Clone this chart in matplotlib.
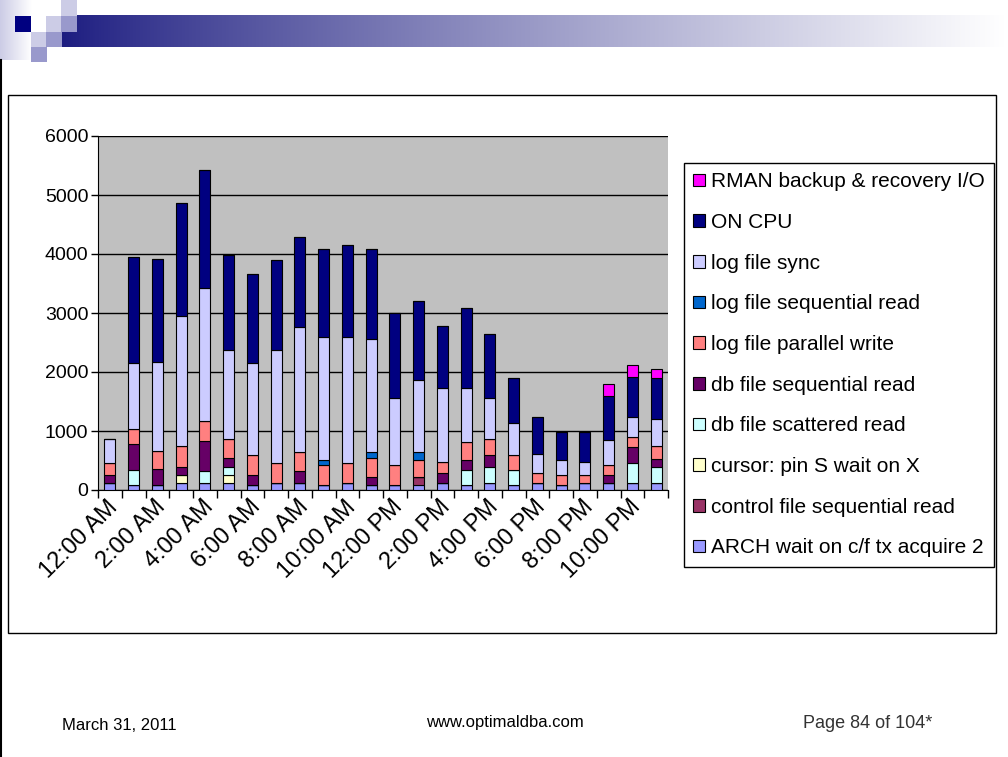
import matplotlib
matplotlib.use("Agg")
import matplotlib.pyplot as plt
import matplotlib.transforms as mtrans
import numpy as np
from matplotlib.patches import Rectangle

plt.rcParams['font.family'] = ['Liberation Sans', 'DejaVu Sans']

hours = ["12:00 AM", "1:00 AM", "2:00 AM", "3:00 AM", "4:00 AM", "5:00 AM",
         "6:00 AM", "7:00 AM", "8:00 AM", "9:00 AM", "10:00 AM", "11:00 AM",
         "12:00 PM", "1:00 PM", "2:00 PM", "3:00 PM", "4:00 PM", "5:00 PM",
         "6:00 PM", "7:00 PM", "8:00 PM", "9:00 PM", "10:00 PM", "11:00 PM"]

arch_wait = [124, 80, 80, 113, 113, 124, 90, 124, 124, 80, 113, 80,
             80, 80, 124, 80, 124, 80, 113, 80, 113, 113, 113, 124]
control_file_seq = [0, 0, 0, 0, 0, 0, 0, 0, 0, 0, 0, 0,
                    0, 135, 0, 0, 0, 0, 0, 0, 0, 0, 0, 0]
cursor_pin_s = [0, 0, 0, 141, 0, 130, 0, 0, 0, 0, 0, 0,
                0, 0, 0, 0, 0, 0, 0, 0, 0, 0, 0, 0]
db_scattered = [0, 259, 0, 0, 215, 130, 0, 0, 0, 0, 0, 0,
                0, 0, 0, 259, 260, 259, 0, 0, 0, 0, 339, 260]
db_sequential = [130, 435, 270, 130, 508, 164, 164, 0, 204, 0, 0, 135,
                 0, 0, 159, 169, 215, 0, 0, 0, 0, 136, 282, 136]
log_parallel_write = [209, 254, 305, 356, 328, 316, 333, 339, 322, 338, 344, 333,
                      338, 293, 186, 306, 260, 248, 170, 169, 141, 169, 170, 226]
log_seq_read = [0, 0, 0, 0, 0, 0, 0, 0, 0, 90, 0, 96,
                0, 136, 0, 0, 0, 0, 0, 0, 0, 0, 0, 0]
log_file_sync = [401, 1130, 1520, 2215, 2260, 1515, 1571, 1916, 2119, 2092, 2143, 1922,
                 1136, 1215, 1255, 910, 695, 543, 321, 259, 215, 430, 339, 457]
on_cpu = [0, 1792, 1745, 1915, 2006, 1611, 1497, 1521, 1514, 1485, 1553, 1519,
          1446, 1350, 1051, 1356, 1090, 768, 639, 470, 509, 751, 672, 690]
rman_io = [0, 0, 0, 0, 0, 0, 0, 0, 0, 0, 0, 0,
           0, 0, 0, 0, 0, 0, 0, 0, 0, 192, 209, 158]

series = [
    ("ARCH wait on c/f tx acquire 2", arch_wait, "#9999FF"),
    ("control file sequential read", control_file_seq, "#993366"),
    ("cursor: pin S wait on X", cursor_pin_s, "#FFFFCC"),
    ("db file scattered read", db_scattered, "#CCFFFF"),
    ("db file sequential read", db_sequential, "#660066"),
    ("log file parallel write", log_parallel_write, "#FF8080"),
    ("log file sequential read", log_seq_read, "#0066CC"),
    ("log file sync", log_file_sync, "#CCCCFF"),
    ("ON CPU", on_cpu, "#000080"),
    ("RMAN backup & recovery I/O", rman_io, "#FF00FF"),
]
y_ticks = [0, 1000, 2000, 3000, 4000, 5000, 6000]

W, H = 1008, 757
fig = plt.figure(figsize=(W / 100, H / 100), dpi=100)
fig.patch.set_facecolor("white")

def fx(px):
    return px / W

def fy(py):
    return 1 - py / H

# page left border line
fig.add_artist(plt.Line2D([fx(1), fx(1)], [0, fy(60)], color="black", lw=1.5,
                          transform=fig.transFigure))

# header gradient bar
gax = fig.add_axes([fx(62), fy(47), fx(1005) - fx(62), fy(15) - fy(47)])
grad = np.linspace(0, 1, 512) ** 0.85
c0 = np.array([0x1c, 0x1c, 0x80]) / 255
c1 = np.array([1.0, 1.0, 1.0])
img = (c0[None, :] * (1 - grad[:, None]) + c1[None, :] * grad[:, None])
gax.imshow(img[None, :, :], aspect="auto", extent=[0, 1, 0, 1])
gax.axis("off")
# left fade block (lavender to white, horizontal)
fax = fig.add_axes([0, fy(60), fx(32), fy(0) - fy(60)])
t = np.linspace(0, 1, 64)
lav = np.array([0xCC, 0xCC, 0xE6]) / 255
fade = (lav[None, :] * (1 - t[:, None]) + np.ones(3)[None, :] * t[:, None])[None, :, :]
fax.imshow(fade, aspect="auto", extent=[0, 1, 0, 1])
fax.axis("off")
# decorative squares
squares = [
    (61, 0, 16, 16, "#CCCCE6"),
    (15, 16, 16, 16, "#000080"),
    (31, 16, 15, 16, "white"),
    (46, 16, 15, 16, "#CCCCE6"),
    (61, 16, 16, 16, "#9999CC"),
    (31, 32, 15, 15, "#CCCCE6"),
    (46, 32, 16, 15, "#9999CC"),
    (31, 47, 16, 15, "#9999CC"),
]
for x0, y0, w, h, c in squares:
    fig.add_artist(Rectangle((fx(x0), fy(y0 + h)), fx(w), fy(0) - fy(h), color=c,
                             transform=fig.transFigure, lw=0))

# chart frame
fig.add_artist(Rectangle((fx(8), fy(633)), fx(996) - fx(8), fy(95) - fy(633),
                         fill=False, edgecolor="black", lw=1.0, transform=fig.transFigure))

ax = fig.add_axes([fx(98), fy(490), fx(668) - fx(98), fy(136) - fy(490)])
ax.set_facecolor("#C0C0C0")
x = np.arange(len(hours))
bottom = np.zeros(len(hours))
handles = []
for name, vals, col in series:
    v = np.array(vals, dtype=float)
    b = ax.bar(x, v, bottom=bottom, width=0.47, color=col, edgecolor="black",
               linewidth=0.8, label=name, zorder=3)
    handles.append(b)
    bottom += v

ax.set_xlim(-0.5, len(hours) - 0.5)
ax.set_ylim(0, 6000)
ax.set_yticks(y_ticks)
ax.set_yticklabels([str(t) for t in y_ticks], fontsize=14)
ax.yaxis.grid(True, color="black", lw=1.0, zorder=0)
ax.set_axisbelow(True)
ax.tick_params(axis="y", direction="out", length=5, width=1, pad=2)
ax.set_xticks(np.arange(-0.5, len(hours), 1.0))
ax.set_xticklabels([])
ax.tick_params(axis="x", direction="out", length=6, width=1)
for s in ["top", "right"]:
    ax.spines[s].set_visible(False)
ax.spines["left"].set_color("black")
ax.spines["bottom"].set_color("black")

offset = mtrans.ScaledTranslation(-3 / 100, -6 / 100, fig.dpi_scale_trans)
for i in range(0, len(hours), 2):
    ax.text(i, 0, hours[i], rotation=45, ha="right", va="top", rotation_mode="anchor",
            fontsize=17, transform=ax.get_xaxis_transform() + offset)

leg = fig.legend(handles[::-1], [s[0] for s in series][::-1],
                 loc="upper left", bbox_to_anchor=(fx(684), fy(163)),
                 bbox_transform=fig.transFigure, fontsize=15, frameon=True,
                 fancybox=False, edgecolor="black", framealpha=1,
                 handlelength=0.55, handleheight=0.55, handletextpad=0.3,
                 labelspacing=1.04, borderpad=0.45, borderaxespad=0)
leg.get_frame().set_linewidth(1.0)

fig.text(fx(62), fy(726), "March 31, 2011", fontsize=12, va="center", ha="left")
fig.text(fx(505), fy(723), "www.optimaldba.com", fontsize=12, va="center", ha="center")
fig.text(fx(803), fy(723), "Page 84 of 104*", fontsize=13, va="center", ha="left", color="#333333")

fig.savefig("out.png", dpi=100)
